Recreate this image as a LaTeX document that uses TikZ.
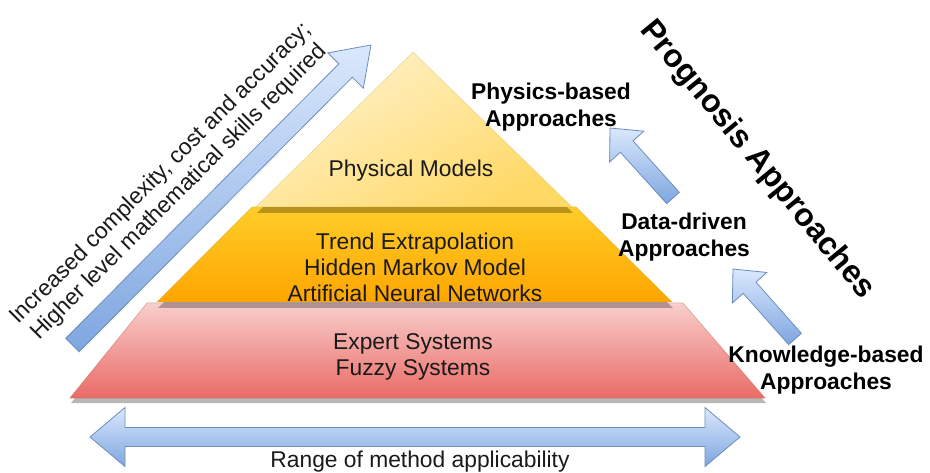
\documentclass[tikz,border=0pt]{standalone}
\usepackage{fontspec}
\setmainfont{Liberation Sans}
\usetikzlibrary{calc}

\definecolor{arrowlight}{HTML}{DAE8FC}
\definecolor{arrowdark}{HTML}{7EA6E0}
\definecolor{arrowline}{HTML}{6C8EBF}
\definecolor{yellowtop}{HTML}{FFF2CC}
\definecolor{yellowbot}{HTML}{FFD966}
\definecolor{yellowline}{HTML}{D6B656}
\definecolor{orangetop}{HTML}{FFCD28}
\definecolor{orangebot}{HTML}{FFA500}
\definecolor{orangeline}{HTML}{D79B00}
\definecolor{redtop}{HTML}{F8CECC}
\definecolor{redbot}{HTML}{EA6B66}
\definecolor{redline}{HTML}{B85450}
\definecolor{inktext}{HTML}{1A1A1A}

% block arrow from tail #2 to tip #3: shaft half width #4, head half width #5, head length #6
\newcommand\drawblockarrow[6]{%
  \path ($(#3)!#6!(#2)$) coordinate (hb);
  \draw[#1] ($(#2)!#4!90:(#3)$) -- ($(hb)!#4!90:(#3)$) -- ($(hb)!#5!90:(#3)$)
    -- (#3) -- ($(hb)!#5!-90:(#3)$) -- ($(hb)!#4!-90:(#3)$)
    -- ($(#2)!#4!-90:(#3)$) -- cycle;
}

\tikzset{
  blockarrow/.style={draw=arrowline, line width=0.8pt, line join=miter,
    top color=arrowlight, bottom color=arrowdark},
  layershadow/.style={fill=black, fill opacity=0.28, draw=none},
  layertext/.style={text=inktext, align=center, inner sep=0pt,
    font=\fontsize{22.8}{26}\selectfont},
  boldlabel/.style={text=black, align=center, inner sep=0pt,
    font=\fontsize{22.8}{26.5}\selectfont\bfseries},
  titlelabel/.style={text=black, inner sep=0pt,
    font=\fontsize{32}{36}\selectfont\bfseries},
}

\begin{document}
\begin{tikzpicture}[x=1pt, y=-1pt]
  \fill[white] (0,0) rectangle (930,473);
  \useasboundingbox (0,0) rectangle (930,473);

  % ---- pyramid layers (bottom to top), each with a soft drop shadow ----
  \fill[layershadow, shift={(1,5)}] (147,303) -- (683,303) -- (765,398) -- (70,398) -- cycle;
  \draw[draw=redline, draw opacity=0.5, line width=0.5pt, top color=redtop, bottom color=redbot]
    (147,303) -- (683,303) -- (765,398) -- (70,398) -- cycle;

  \fill[layershadow, shift={(1,6)}] (252,207) -- (576,207) -- (672,302) -- (157,302) -- cycle;
  \draw[draw=orangeline, draw opacity=0.5, line width=0.5pt, top color=orangetop, bottom color=orangebot]
    (252,207) -- (576,207) -- (672,302) -- (157,302) -- cycle;

  \fill[layershadow, shift={(1,6)}] (413,52) -- (572,207) -- (256,207) -- cycle;
  \draw[draw=yellowline, draw opacity=0.5, line width=0.5pt, top color=yellowtop, bottom color=yellowbot, shading angle=30]
    (413,52) -- (572,207) -- (256,207) -- cycle;

  % ---- layer texts ----
  \node[layertext] (physmodels) at (411,171) {Physical Models};
  \node[layertext] (datamethods) at (415,267) {Trend Extrapolation\\Hidden Markov Model\\Artificial Neural Networks};
  \node[layertext] (knowmethods) at (413,357) {Expert Systems\\Fuzzy Systems};

  % ---- complexity arrow with its caption ----
  \coordinate (cxtail) at (72.5,345);
  \coordinate (cxtip) at (371,45);
  \drawblockarrow{blockarrow}{cxtail}{cxtip}{9.5pt}{25pt}{36pt}
  \node[layertext, rotate=45, anchor=south] (complexity) at (187,200)
    {Increased complexity, cost and accuracy;\\Higher level mathematical skills required};

  % ---- range arrow ----
  \coordinate (rgleft) at (90,437);
  \coordinate (rgright) at (740,437);
  \draw[blockarrow] (rgleft) -- (125,407.5) -- (125,427.5) -- (705,427.5) -- (705,407.5)
    -- (rgright) -- (705,466.5) -- (705,446.5) -- (125,446.5) -- (125,466.5) -- cycle;
  \node[layertext] (range) at (420,462) {Range of method applicability};

  % ---- approach labels and the arrows between them ----
  \node[boldlabel] (physapp) at (551,107) {Physics-based\\Approaches};
  \node[boldlabel] (dataapp) at (684,237) {Data-driven\\Approaches};
  \node[boldlabel] (knowapp) at (826,370) {Knowledge-based\\Approaches};

  \coordinate (pa) at (673,198);
  \coordinate (pb) at (610,128);
  \drawblockarrow{blockarrow}{pa}{pb}{8.5pt}{23pt}{25pt}
  \coordinate (da) at (795,339);
  \coordinate (db) at (733,269);
  \drawblockarrow{blockarrow}{da}{db}{8.5pt}{23pt}{25pt}

  \node[titlelabel, rotate=-50.5] (prognosis) at (757,160) {Prognosis Approaches};
\end{tikzpicture}
\end{document}
